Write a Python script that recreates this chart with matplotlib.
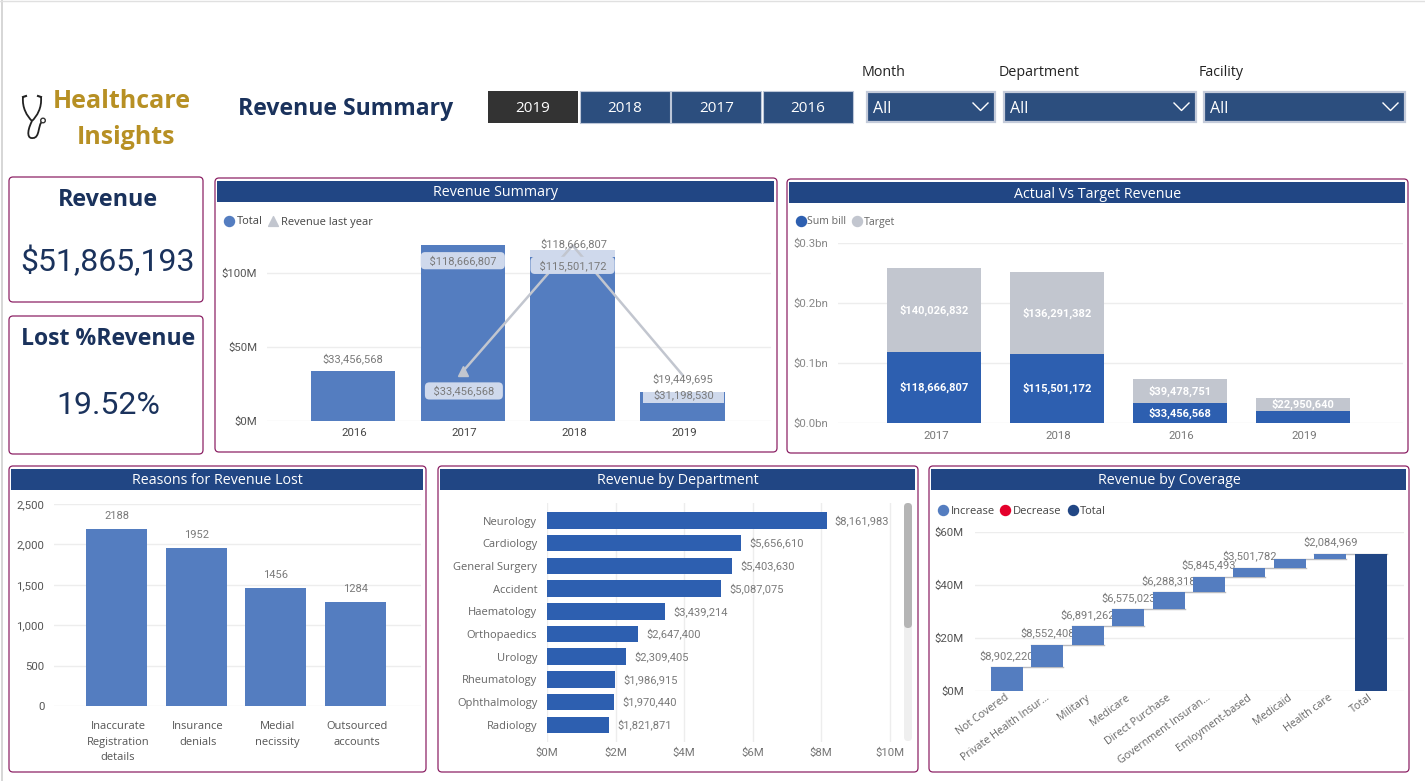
import numpy as np
import matplotlib
matplotlib.use("Agg")
import matplotlib.pyplot as plt
from matplotlib.patches import FancyBboxPatch, Rectangle, Circle, PathPatch
from matplotlib.path import Path

# ---------- data ----------
year_buttons = ["2019", "2018", "2017", "2016"]
summary_years = ["2016", "2017", "2018", "2019"]
summary_total = [33456568, 118666807, 115501172, 19449695]
summary_last_year = [33456568, 118666807, 31198530]
actual_years = ["2017", "2018", "2016", "2019"]
actual_bill = [118666807, 115501172, 33456568, 19449695]
actual_target = [140026832, 136291382, 39478751, 22950640]
reasons = ["Inaccurate\nRegistration\ndetails", "Insurance\ndenials", "Medial\nnecissity", "Outsourced\naccounts"]
reason_counts = [2188, 1952, 1456, 1284]
departments = ["Neurology", "Cardiology", "General Surgery", "Accident", "Haematology",
               "Orthopaedics", "Urology", "Rheumatology", "Ophthalmology", "Radiology"]
department_revenue = [8161983, 5656610, 5403630, 5087075, 3439214, 2647400, 2309405, 1986915, 1970440, 1821871]
coverage = ["Not Covered", "Private Health Insur...", "Military", "Medicare", "Direct Purchase",
            "Government Insuran...", "Emloyment-based", "Medicaid", "Health care", "Total"]
coverage_increase = [8902220, 8552408, 6891262, 6575023, 6288318, 5845493, 3501782, 3225000, 2084969]
coverage_total = 51865193
kpi_revenue = "$51,865,193"
kpi_lost = "19.52%"

# ---------- style ----------
W, H = 1425, 781
UI = "Open Sans"
NUM = "Roboto"
BORDER = "#8C2265"
HEADER = "#214684"
NAVY = "#1A325C"
GOLD = "#B79024"
SLICER = "#2C4E7E"
MID = "#547DC0"
DEEP = "#2D5FB0"
GREY = "#C2C6CF"
PILL = "#CFD9EC"
GRID = "#EDEDED"
LBL = "#7A7A7A"
TICK = "#555555"

fig = plt.figure(figsize=(W / 100, H / 100), dpi=100, facecolor="white")
ov = fig.add_axes([0, 0, 1, 1], zorder=0)
ov.set_xlim(0, W)
ov.set_ylim(H, 0)
ov.axis("off")


def T(x, y, s, size, color="#333333", ha="center", weight="normal", family=UI, z=5):
    ov.text(x, y + 2, s, fontsize=size, color=color, ha=ha, va="center", weight=weight, family=family, zorder=z)


def rbox(l, t, r, b, rad=4):
    ov.add_patch(FancyBboxPatch((l, t), r - l, b - t, boxstyle=f"round,pad=0,rounding_size={rad}",
                                fc="white", ec=BORDER, lw=0.9, zorder=1))


def panel(l, t, r, b, title):
    rbox(l, t, r, b)
    ov.add_patch(Rectangle((l + 2.5, t + 2.5), r - l - 5, 21, fc=HEADER, ec="none", zorder=2))
    T((l + r) / 2, t + 13, title, 10.3, color="white")


def chart(l, t, r, b):
    ax = fig.add_axes([l / W, 1 - b / H, (r - l) / W, (b - t) / H], zorder=2)
    ax.patch.set_alpha(0)
    for s in ax.spines.values():
        s.set_visible(False)
    ax.tick_params(length=0)
    ax.set_axisbelow(True)
    return ax


def cat_lim(ax, l, r, c0, step):
    ax.set_xlim((l - c0) / step, (r - c0) / step)


def money(v):
    return f"${v:,.0f}"


# page edges
ov.plot([2, 2], [0, H], color="#D0D0D0", lw=1.2, zorder=1)
ov.plot([0, W], [1, 1], color="#E0E0E0", lw=1, zorder=1)

# ---------- header ----------
T(122, 99, "Healthcare", 18, GOLD, weight="bold")
T(126, 136, "Insights", 18, GOLD, weight="bold")
T(346, 107, "Revenue Summary", 16.6, NAVY, weight="bold")

# stethoscope icon
for verts in ([(23, 97), (22, 108), (27, 116), (32, 121)], [(41, 97), (42, 108), (37, 116), (32, 121)]):
    ov.add_patch(PathPatch(Path(verts, [Path.MOVETO, Path.CURVE4, Path.CURVE4, Path.CURVE4]),
                           fc="none", ec="#222222", lw=1.3, zorder=3))
ov.add_patch(PathPatch(Path([(32, 121), (26, 133), (28, 139), (33, 138), (40, 138), (38, 124), (42, 122)],
                            [Path.MOVETO] + [Path.CURVE4] * 6), fc="none", ec="#222222", lw=1.3, zorder=3))
ov.plot([23, 26], [97, 96], color="#222222", lw=1.5, zorder=3)
ov.plot([41, 38], [97, 96], color="#222222", lw=1.5, zorder=3)
ov.add_patch(Circle((43, 120.5), 2.3, fc="white", ec="#333333", lw=1, zorder=3))

for i, y in enumerate(year_buttons):
    l = 488 + 91.7 * i
    ov.add_patch(Rectangle((l, 91), 90, 32, fc="#333333" if i == 0 else SLICER,
                           ec="none" if i == 0 else "#BCC6D8", lw=0.8, zorder=2))
    T(l + 45, 107, y, 11, "white")

for l, r, name in ((867, 995, "Month"), (1004, 1196, "Department"), (1204, 1405, "Facility")):
    T(l - 5, 70, name, 10.3, "#222222", ha="left")
    ov.add_patch(Rectangle((l, 92), r - l, 30, fc=SLICER, ec="#C4CBDA", lw=1.6, zorder=2))
    T(l + 6, 107, "All", 11.5, "white", ha="left")
    ov.plot([r - 22, r - 14.5, r - 7], [103, 110.5, 103], color="white", lw=1, zorder=3)

# ---------- KPI cards ----------
rbox(9, 177, 203, 302)
T(108, 198, "Revenue", 16.8, NAVY, weight="bold")
T(108, 259, kpi_revenue, 23, NAVY, family=NUM)
rbox(9, 316, 203, 454)
T(108, 337, "Lost %Revenue", 16.6, NAVY, weight="bold")
T(108, 404, kpi_lost, 23, NAVY, family=NUM)

# ---------- Revenue summary ----------
panel(215, 178, 777, 452, "Revenue Summary")
ov.scatter([229], [221], s=52, color=MID, zorder=3)
T(237, 220, "Total", 8, "#444444", ha="left")
ov.scatter([273], [221], s=50, marker="^", color=GREY, zorder=3)
T(281, 220, "Revenue last year", 8, "#444444", ha="left")

ax = chart(267, 243, 771, 421)
cat_lim(ax, 267, 771, 353, 109.8)
ax.set_ylim(0, 120.3)
xs = np.arange(len(summary_years))
tot_m = np.array(summary_total) / 1e6
ax.bar(xs, tot_m, width=0.767, color=MID, zorder=2)
ly_m = np.array(summary_last_year) / 1e6
# clipped label backgrounds inside the bars
ax.bar(2, 5, bottom=tot_m[2] - 5, width=0.767, color=PILL, zorder=2.5)
ax.bar(3.01, 7.4, bottom=tot_m[3] - 7.4, width=0.73, color=PILL, zorder=2.5)
ax.plot(xs[1:], ly_m, color=GREY, lw=1.8, marker="^", ms=6.5, markevery=[0], zorder=3, clip_on=False)
ax.set_yticks([0, 50, 100], ["$0M", "$50M", "$100M"], fontsize=8.2, color=TICK, family=NUM)
ax.set_xticks(xs + 0.015, summary_years, fontsize=8.2, color="#444444", family=NUM)
ax.tick_params(axis="y", pad=7)
ax.tick_params(axis="x", pad=5)
ax.grid(axis="y", color=GRID, lw=1)


def lab(ax, x, y, s, dy, pill=False, color=LBL, size=8, z=6, weight="normal"):
    kw = {}
    if pill:
        s = "\u00a0\u00a0" + s + "\u00a0\u00a0"
        kw["bbox"] = dict(boxstyle="round,pad=0.28,rounding_size=0.4", fc=PILL, ec="none")
    ax.annotate(s, (x, y), xytext=(0, dy), textcoords="offset points", ha="center", va="center",
                fontsize=size, color=color, family=NUM, zorder=z, weight=weight, annotation_clip=False, **kw)


lab(ax, 0, tot_m[0], money(summary_total[0]), 9.5)
lab(ax, 1, tot_m[1], money(summary_total[1]), -11, pill=True)
lab(ax, 2, tot_m[2], money(summary_total[2]), -11, pill=True)
lab(ax, 3, tot_m[3], money(summary_total[3]), 10)
lab(ax, 1.01, ly_m[0], money(summary_last_year[0]), -14, pill=True)
lab(ax, 2.01, ly_m[1], money(summary_last_year[1]), 1.5)
lab(ax, 3.01, ly_m[2], money(summary_last_year[2]), -14.5)

# ---------- Actual vs target ----------
panel(787, 179, 1408, 453, "Actual Vs Target Revenue")
ov.scatter([801], [221], s=52, color=DEEP, zorder=3)
T(807, 220, "Sum bill", 7.6, "#666666", ha="left")
ov.scatter([857], [221], s=52, color=GREY, zorder=3)
T(864, 220, "Target", 7.6, "#666666", ha="left")

ax = chart(838, 243, 1403, 423)
cat_lim(ax, 838, 1403, 934, 122.9)
ax.set_ylim(0, 0.3)
xs = np.arange(len(actual_years))
bill = np.array(actual_bill) / 1e9
targ = np.array(actual_target) / 1e9
ax.bar(xs, bill, width=0.762, color=DEEP, zorder=2)
ax.bar(xs, targ, width=0.762, bottom=bill, color=GREY, zorder=2)
ax.set_yticks([0, 0.1, 0.2, 0.3], ["$0.0bn", "$0.1bn", "$0.2bn", "$0.3bn"], fontsize=8.2, color="#888888", family=NUM)
ax.set_xticks(xs + 0.015, actual_years, fontsize=8.2, color="#777777", family=NUM)
ax.tick_params(axis="y", pad=7)
ax.tick_params(axis="x", pad=6)
ax.grid(axis="y", color=GRID, lw=1)
for i in xs:
    lab(ax, i, bill[i] + targ[i] / 2, money(actual_target[i]), 0, color="white", weight="bold")
    if i < 3:
        lab(ax, i, bill[i] / 2, money(actual_bill[i]), 0, color="white", weight="bold")

# ---------- Reasons ----------
panel(9, 466, 426, 772, "Reasons for Revenue Lost")
ax = chart(54, 504, 421, 706)
cat_lim(ax, 54, 421, 116.5, 79.7)
ax.set_ylim(0, 2500)
xs = np.arange(len(reasons))
ax.bar(xs, reason_counts, width=0.765, color=MID, zorder=2)
ax.set_yticks(range(0, 2501, 500), [f"{v:,}" for v in range(0, 2501, 500)], fontsize=8.2, color=TICK, family=NUM)
ax.set_xticks(xs + 0.02, reasons, fontsize=8, color=TICK, family=UI, linespacing=1.55)
ax.tick_params(axis="y", pad=7)
ax.tick_params(axis="x", pad=11)
ax.grid(axis="y", color=GRID, lw=1)
for i, v in enumerate(reason_counts):
    lab(ax, i, v, str(v), 9.5)

# ---------- Department ----------
panel(438, 466, 918, 772, "Revenue by Department")
ax = chart(547, 503, 893, 742)
ax.set_xlim(0, 346 / 34.25)
ax.set_ylim((742 - 520.5) / 22.7, (503 - 520.5) / 22.7)
ys = np.arange(len(departments))
dep_m = np.array(department_revenue) / 1e6
ax.barh(ys, dep_m, height=0.73, color=DEEP, zorder=2)
ax.set_yticks(ys, departments, fontsize=8, color="#666666", family=UI)
ax.set_xticks(range(0, 11, 2), [f"${v}M" for v in range(0, 11, 2)], fontsize=8.2, color="#777777", family=NUM)
ax.tick_params(axis="y", pad=7)
ax.tick_params(axis="x", pad=4)
ax.grid(axis="x", color=GRID, lw=1)
for i, v in enumerate(dep_m):
    ax.annotate(money(department_revenue[i]), (v, i), xytext=(6, 0), textcoords="offset points", va="center",
                ha="left", fontsize=8, color=LBL, family=NUM, annotation_clip=False)
ov.add_patch(FancyBboxPatch((904, 503), 8, 238, boxstyle="round,pad=0,rounding_size=4", fc="#EFEFEF", ec="none", zorder=3))
ov.add_patch(FancyBboxPatch((904, 503), 8, 125, boxstyle="round,pad=0,rounding_size=4", fc="#B5B5B5", ec="none", zorder=3))

# ---------- Coverage ----------
panel(929, 466, 1409, 772, "Revenue by Coverage")
for cx, tx, col, name in ((943, 951, MID, "Increase"), (1005, 1013, "#E4002B", "Decrease"), (1073, 1080, HEADER, "Total")):
    ov.scatter([cx], [510], s=52, color=col, zorder=3)
    T(tx, 509, name, 8, "#444444", ha="left")

ax = chart(975, 532, 1404, 691)
cat_lim(ax, 975, 1404, 1007, 40.4)
ax.set_ylim(0, 60)
xs = np.arange(len(coverage))
inc = np.array(coverage_increase) / 1e6
bottoms = np.concatenate(([0], np.cumsum(inc)[:-1]))
tops = bottoms + inc
ax.bar(xs[:-1], inc, bottom=bottoms, width=0.79, color=MID, zorder=4)
ax.bar(xs[-1], coverage_total / 1e6, width=0.79, color=HEADER, zorder=4)
for i, top in enumerate(tops):
    ax.plot([i - 0.395, i + 1.395], [top, top], color="#B9BBC0", lw=1, zorder=3)
ax.plot([-0.395, 0.395], [0, 0], color="#B9BBC0", lw=1, zorder=3)
for i, v in enumerate(coverage_increase):
    if coverage[i] != "Medicaid":
        lab(ax, i, tops[i], money(v), 8.5, z=2)
ax.set_yticks([0, 20, 40, 60], ["$0M", "$20M", "$40M", "$60M"], fontsize=8.2, color=TICK, family=NUM)
ax.set_xticks(xs - 0.06, coverage, fontsize=7.7, color="#666666", family=UI, rotation=36, ha="right", rotation_mode="anchor")
ax.tick_params(axis="y", pad=8)
ax.tick_params(axis="x", pad=1)
ax.grid(axis="y", color=GRID, lw=1)

fig.savefig("out.png", dpi=100, facecolor="white")
